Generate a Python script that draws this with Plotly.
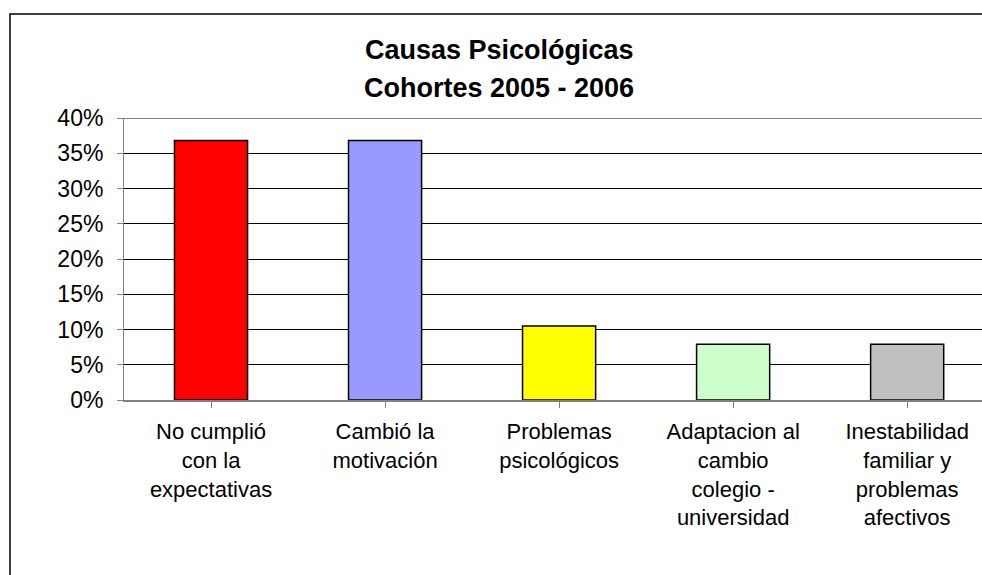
import plotly.graph_objects as go

categories = [
    "No cumplió<br>con la<br>expectativas",
    "Cambió la<br>motivación",
    "Problemas<br>psicológicos",
    "Adaptacion al<br>cambio<br>colegio -<br>universidad",
    "Inestabilidad<br>familiar y<br>problemas<br>afectivos",
]
values = [0.368, 0.368, 0.105, 0.079, 0.079]
colors = ["#FF0000", "#9999FF", "#FFFF00", "#CCFFCC", "#C0C0C0"]
tick_vals = [0, 0.05, 0.10, 0.15, 0.20, 0.25, 0.30, 0.35, 0.40]
tick_text = ["0%", "5%", "10%", "15%", "20%", "25%", "30%", "35%", "40%"]
title_lines = ["Causas Psicológicas", "Cohortes 2005 - 2006"]

W, H = 982, 575
L, R, T, B = 124, 0, 118, 175
pw, ph = W - L - R, H - T - B

def px_x(p):
    return (p - L) / pw

def px_y(p):
    return (H - B - p) / ph

fig = go.Figure(go.Bar(
    x=list(range(len(categories))),
    y=values,
    marker=dict(color=colors, line=dict(color="#000000", width=1.5)),
    width=0.42,
    hoverinfo="skip",
))

fig.update_layout(
    width=W, height=H,
    margin=dict(l=L, r=R, t=T, b=B),
    paper_bgcolor="white", plot_bgcolor="white",
    showlegend=False,
    font=dict(family="Liberation Sans, Arial, sans-serif", color="#000000"),
    xaxis=dict(
        tickmode="array",
        tickvals=list(range(len(categories))),
        ticktext=categories,
        range=[-0.5, 4.43],
        showgrid=False,
        showline=True, linecolor="#808080", linewidth=2,
        ticks="outside", tickson="boundaries", ticklen=6, tickcolor="#808080",
        tickfont=dict(size=22),
        ticklabelstandoff=5,
        fixedrange=True,
    ),
    yaxis=dict(
        range=[0, 0.4],
        tickmode="array", tickvals=tick_vals, ticktext=tick_text,
        showgrid=True, gridcolor="#000000", gridwidth=1,
        showline=True, linecolor="#808080", linewidth=1,
        ticks="outside", ticklen=6, tickcolor="#808080",
        tickfont=dict(size=23),
        ticklabelstandoff=9,
        zeroline=False,
        fixedrange=True,
    ),
    shapes=[
        dict(type="rect", xref="paper", yref="paper",
             x0=px_x(10), x1=px_x(1000), y0=px_y(600), y1=px_y(14),
             line=dict(color="#000000", width=1.5), fillcolor="rgba(0,0,0,0)", layer="below"),
        dict(type="line", xref="paper", yref="y",
             x0=0, x1=1, y0=0.4, y1=0.4,
             line=dict(color="#808080", width=2)),
    ],
    annotations=[
        dict(text="<b>%s</b>" % title_lines[0], xref="paper", yref="paper",
             x=px_x(499), y=px_y(50), showarrow=False, font=dict(size=27),
             xanchor="center", yanchor="middle"),
        dict(text="<b>%s</b>" % title_lines[1], xref="paper", yref="paper",
             x=px_x(499), y=px_y(88), showarrow=False, font=dict(size=27),
             xanchor="center", yanchor="middle"),
    ],
)

fig.write_html(
    "out.html",
    config={"displayModeBar": False},
    post_script="document.body.style.margin='0';document.body.style.overflow='hidden';",
)
